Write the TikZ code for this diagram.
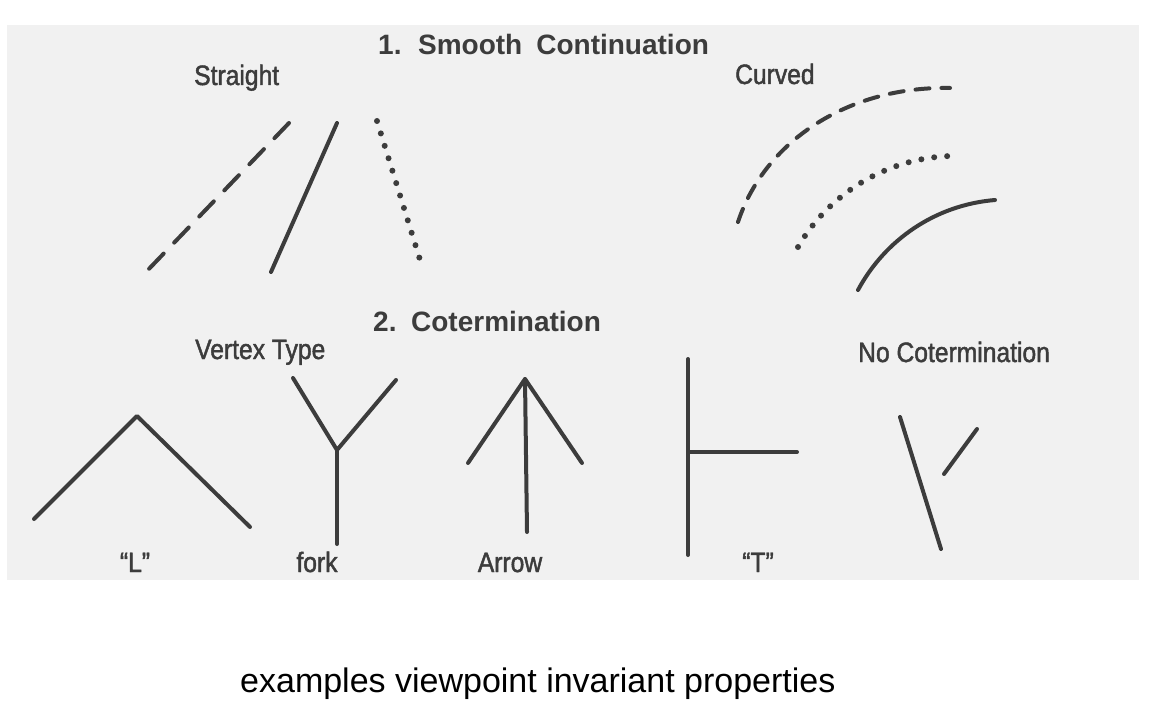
\documentclass[tikz,border=0pt]{standalone}
\usepackage{fontspec}
\setmainfont{Liberation Sans}
\newfontfamily\labfont[FakeStretch=0.88,FakeBold=1.6]{Liberation Sans}
\definecolor{ink}{HTML}{3C3C3C}
\definecolor{paper}{HTML}{F1F1F1}
\tikzset{
  ln/.style={draw=ink, line width=4pt, line cap=round, line join=round},
  dashln/.style={draw=ink, line width=4pt, line cap=round, dash pattern=on 14pt off 12pt},
  sdashln/.style={draw=ink, line width=4pt, line cap=round, dash pattern=on 21pt off 15.2pt},
  dotln/.style={draw=ink, line width=6pt, line cap=round, dash pattern=on 0pt off 13pt},
  ttl/.style={text=ink, font=\fontsize{28}{32}\selectfont\bfseries, anchor=base west, inner sep=0pt},
  lbl/.style={text=ink, font=\labfont\fontsize{28}{32}\selectfont, anchor=base west, inner sep=0pt},
  lblc/.style={lbl, anchor=base},
  capt/.style={text=black, font=\fontsize{34}{40}\selectfont, anchor=base west, inner sep=0pt},
}
\begin{document}
\begin{tikzpicture}[x=1pt,y=-1pt]
\useasboundingbox (0,0) rectangle (1167,714);
\fill[white] (0,0) rectangle (1167,714);
\fill[paper] (7,25) rectangle (1139,580);

% titles
\node[ttl] (t1) at (378,55) {\spaceskip=14pt\relax 1. Smooth Continuation};
\node[ttl] (t2) at (373,331) {\spaceskip=12pt\relax 2. Cotermination};

% section 1: straight
\node[lbl] (straight) at (194,85) {Straight};
\coordinate (da) at (289,123); \coordinate (db) at (146,272);
\draw[sdashln] (da) -- (db);
\coordinate (sa) at (337,123); \coordinate (sb) at (271,272);
\draw[ln] (sa) -- (sb);
\coordinate (pa) at (377,121); \coordinate (pb) at (421,263);
\draw[dotln] (pa) -- (pb);

% section 1: curved
\node[lbl] (curved) at (735,84) {Curved};
\coordinate (ca) at (738,222); \coordinate (cb) at (950,88);
\draw[dashln] (ca) .. controls (765,140) and (850,86) .. (cb);
\coordinate (cc) at (798,247); \coordinate (cd) at (951,156);
\draw[dotln] (cc) .. controls (828,195) and (885,158) .. (cd);
\coordinate (ce) at (858,290); \coordinate (cf) at (995,200);
\draw[ln] (ce) .. controls (885,240) and (935,205) .. (cf);

% section 2
\node[lbl] (vtype) at (195,359) {Vertex Type};
\node[lbl] (nocot) at (858,362) {No Cotermination};

% L
\coordinate (l1) at (34,519); \coordinate (l2) at (137,416); \coordinate (l3) at (250,527);
\draw[ln] (l1) -- (l2) -- (l3);
\node[lblc] (lL) at (135,572) {“L”};

% fork
\coordinate (f1) at (293,378); \coordinate (fj) at (337,450); \coordinate (f2) at (396,380); \coordinate (f3) at (337,544);
\draw[ln] (f1) -- (fj) -- (f2);
\draw[ln] (fj) -- (f3);
\node[lblc] (lfork) at (317,572) {fork};

% arrow
\coordinate (a0) at (525,379); \coordinate (a1) at (468,463); \coordinate (a2) at (582,463); \coordinate (a3) at (527,532);
\draw[ln] (a1) -- (a0) -- (a2);
\draw[ln] (a0) -- (a3);
\node[lblc] (larrow) at (510,572) {Arrow};

% T
\coordinate (tv1) at (688,359); \coordinate (tv2) at (688,555); \coordinate (tj) at (688,452); \coordinate (th) at (797,452);
\draw[ln] (tv1) -- (tv2);
\draw[ln] (tj) -- (th);
\node[lblc] (lT) at (758,572) {“T”};

% no cotermination
\coordinate (n1) at (900,417); \coordinate (n2) at (941,549);
\coordinate (n3) at (977,429); \coordinate (n4) at (944,474);
\draw[ln] (n1) -- (n2);
\draw[ln] (n3) -- (n4);

% caption
\node[capt] (cap) at (240,692) {examples viewpoint invariant properties};
\end{tikzpicture}
\end{document}
